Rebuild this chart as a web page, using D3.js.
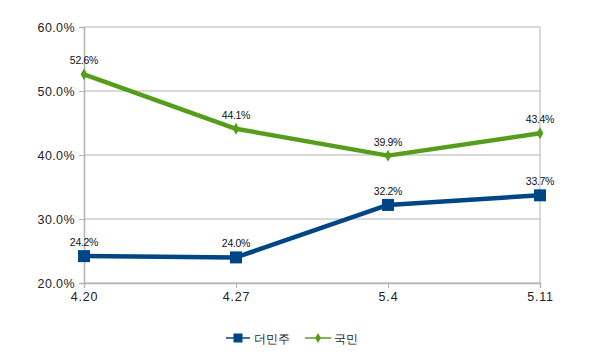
<!DOCTYPE html>
<html><head><meta charset="utf-8">
<script src="https://cdn.jsdelivr.net/npm/d3@7"></script>
<style>body{margin:0;background:#fff}svg{display:block}text{font-family:"Liberation Sans",Arial,sans-serif}</style>
</head><body><svg id="c" width="600" height="360"></svg>
<script>
const categories = ["4.20","4.27","5.4","5.11"];
const seriesNames = ["더민주","국민"];
const minjoo = [24.2,24.0,32.2,33.7];
const kukmin = [52.6,44.1,39.9,43.4];
const yTicks = [20,30,40,50,60];
const colors = ["#004586","#579d1c"];

const svg = d3.select("#c");
const L=84,R=540,T=27,B=283;
const x = d3.scalePoint().domain(categories).range([L,R]);
const y = d3.scaleLinear().domain([20,60]).range([B,T]);

// gridlines
svg.append("g").selectAll("line").data(yTicks).join("line")
  .attr("x1",L).attr("x2",R).attr("y1",d=>y(d)).attr("y2",d=>y(d))
  .attr("stroke","#b3b3b3").attr("stroke-width",1);
svg.append("line").attr("x1",R).attr("x2",R).attr("y1",T).attr("y2",B).attr("stroke","#b3b3b3");

// y axis
const ya = svg.append("g").attr("transform",`translate(${L},0)`)
  .call(d3.axisLeft(y).tickValues(yTicks).tickSize(5).tickPadding(4).tickFormat(d=>d.toFixed(1)+"%"));
ya.select(".domain").attr("stroke","#b3b3b3").attr("stroke-width",1.5);
ya.selectAll(".tick line").attr("stroke","#b3b3b3");
ya.selectAll("text").attr("font-size",12.5).attr("letter-spacing","0.4").attr("fill","#222").attr("font-family","Liberation Sans, Arial, sans-serif");

// x axis
const xa = svg.append("g").attr("transform",`translate(0,${B})`)
  .call(d3.axisBottom(x).tickSize(5).tickPadding(4));
xa.select(".domain").attr("stroke","#b3b3b3").attr("stroke-width",1.5);
xa.selectAll(".tick line").attr("stroke","#b3b3b3");
xa.selectAll("text").attr("font-size",12.5).attr("letter-spacing","0.8").attr("fill","#222").attr("font-family","Liberation Sans, Arial, sans-serif");

const line = d3.line().x((d,i)=>x(categories[i])).y(d=>y(d));
const data = [minjoo,kukmin];
data.forEach((vals,si)=>{
  const g = svg.append("g");
  g.append("path").datum(vals).attr("d",line).attr("fill","none")
    .attr("stroke",colors[si]).attr("stroke-width",4.5).attr("stroke-linejoin","round");
  if(si===0){
    g.selectAll("rect").data(vals).join("rect")
      .attr("x",(d,i)=>x(categories[i])-6).attr("y",d=>y(d)-6)
      .attr("width",12).attr("height",12).attr("fill",colors[0]);
  } else {
    g.selectAll("path.m").data(vals).join("path").attr("class","m")
      .attr("d",d3.symbol(d3.symbolDiamond,40))
      .attr("transform",(d,i)=>`translate(${x(categories[i])},${y(d)})`).attr("fill",colors[1]);
  }
  g.selectAll("text").data(vals).join("text")
    .attr("x",(d,i)=>x(categories[i])).attr("y",d=>y(d)-10)
    .attr("text-anchor","middle").attr("font-size",10.5).attr("fill","#111")
    .attr("letter-spacing","-0.3")
    .text(d=>d.toFixed(1)+"%");
});

// legend
const lg = svg.append("g").attr("transform","translate(0,338)");
const items = [{x:226,w:24,tx:254},{x:305,w:26,tx:334}];
items.forEach((it,i)=>{
  lg.append("line").attr("x1",it.x).attr("x2",it.x+it.w).attr("y1",0).attr("y2",0)
    .attr("stroke",colors[i]).attr("stroke-width",1.5);
  if(i===0){
    lg.append("rect").attr("x",it.x+it.w/2-4.5).attr("y",-4.5).attr("width",9).attr("height",9).attr("fill",colors[0]);
  } else {
    lg.append("path").attr("d",d3.symbol(d3.symbolDiamond,30)).attr("transform",`translate(${it.x+it.w/2},0)`).attr("fill",colors[1]);
  }
  lg.append("text").attr("x",it.tx).attr("y",5).attr("font-size",12).attr("fill","#222")
    .attr("font-family","Noto Sans CJK KR, sans-serif").text(seriesNames[i]);
});
</script></body></html>
